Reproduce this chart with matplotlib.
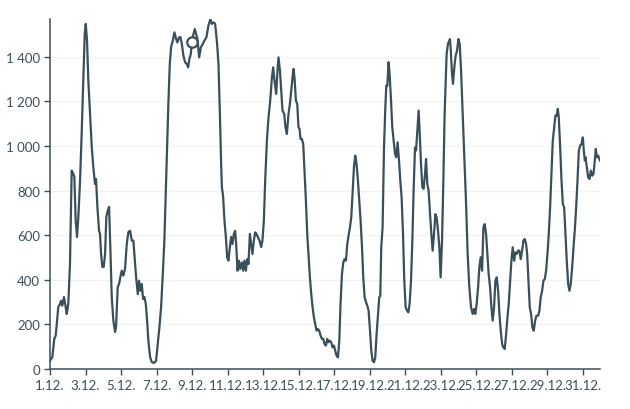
import matplotlib
matplotlib.use("Agg")
import matplotlib.pyplot as plt

# hours since 1.12. 00:00
hours = [0, 3.1, 5.8, 7.7, 11.2, 13.5, 14.9, 16.6, 18.9, 21.2, 22.6, 24.7, 27.0, 29.3, 31.5, 32.9,
         34.7, 36.5, 38.3, 40.6, 42.9, 45.0, 46.9, 48.3, 50.0, 51.8, 54.1, 56.4, 58.5, 60.8, 62.2,
         64.0, 66.3, 67.6, 69.0, 70.7, 72.6, 74.4, 76.1, 78.0, 79.8, 81.5, 83.4, 85.6, 87.9, 89.2,
         91.5, 93.3, 95.1, 96.9, 99.1, 101.4, 103.7, 105.9, 108.2, 110.5, 112.6, 114.0, 116.3,
         118.6, 120.3, 122.1, 124.0, 125.7, 127.5, 129.4, 131.2, 132.9, 135.2, 137.5, 140.6, 143.3,
         145.6, 147.8, 150.1, 152.4, 154.5, 156.4, 158.2, 159.9, 161.8, 163.6, 165.9, 168.1, 170.4,
         172.1, 174.4, 176.2, 178.1, 180.2, 182.5, 184.8, 186.6, 188.3, 190.2, 191.6, 193.8, 195.6,
         197.4, 199.2, 201.5, 203.8, 206.5, 208.6, 211.3, 214.0, 216.7, 218.6, 220.8, 223.1, 225.4,
         227.6, 229.5, 231.2, 232.2, 233.9, 235.7, 237.6, 239.3, 241.1, 243.0, 244.7, 246.5, 248.4,
         250.1, 251.5, 253.3, 255.1, 256.9, 259.2, 261.0, 262.7, 264.6, 266.4, 268.1, 270.0, 271.8,
         273.5, 275.4, 277.2, 278.9, 280.8, 283.0, 285.3, 287.0, 288.9, 290.7, 293.0, 295.2, 297.5,
         299.8, 301.5, 303.3, 305.6, 307.3, 308.7, 310.6, 312.3, 314.1, 316.4, 318.1, 320.0, 322.2,
         324.1, 325.9, 327.6, 329.0, 330.3, 332.2, 334.0, 335.7, 337.1, 338.4, 340.3, 342.1, 343.8,
         345.7, 347.5, 349.2, 351.1, 352.9, 354.7, 356.5, 358.3, 360.1, 362.0, 363.7, 365.5, 367.4,
         369.1, 370.9, 372.8, 374.5, 376.3, 378.2, 379.9, 381.7, 383.6, 385.3, 387.1, 389.0, 390.8,
         392.5, 394.4, 396.2, 397.9, 399.8, 401.6, 403.3, 405.2, 407.0, 408.7, 410.6, 412.4, 414.1,
         416.0, 417.8, 419.6, 421.5, 423.2, 425.0, 426.9, 428.6, 430.4, 432.3, 434.0, 435.8, 437.7,
         439.4, 441.2, 443.1, 444.8, 446.2, 447.5, 449.3, 451.2, 453.0, 454.3, 455.7, 457.4, 458.8,
         460.7, 462.4, 464.2, 466.1, 467.8, 469.6, 471.5, 473.2, 475.0, 476.9, 478.6, 480.4, 482.3,
         484.1, 485.8, 487.7, 489.5, 491.2, 493.1, 494.5, 496.2, 498.0, 499.3, 501.2, 503.0, 504.7,
         506.6, 508.0, 509.7, 511.5, 513.4, 515.2, 516.9, 518.8, 520.6, 522.3, 524.2, 526.0, 527.7,
         529.6, 531.4, 533.1, 534.4, 535.8, 537.6, 540.2, 541.2, 543.1, 544.4, 546.2, 548.0, 549.9,
         551.7, 553.5, 555.3, 557.5, 559.8, 562.1, 564.2, 566.5, 568.8, 571.0, 572.9, 574.6, 576.4,
         578.3, 580.0, 581.8, 583.7, 585.5, 587.2, 589.1, 590.9, 592.6, 594.5, 596.3, 598.0, 599.9,
         601.7, 603.5, 605.4, 607.1, 608.9, 610.8, 612.5, 614.3, 616.2, 618.0, 619.7, 621.6, 623.3,
         625.1, 627.0, 628.7, 630.5, 632.4, 634.1, 635.9, 637.8, 639.5, 641.3, 643.2, 644.6, 646.3,
         648.1, 649.9, 651.7, 653.5, 655.4, 657.1, 659.4, 661.2, 662.9, 664.8, 666.6, 668.4, 670.2,
         672.0, 673.8, 675.6, 677.4, 679.2, 681.1, 682.8, 684.6, 686.0, 687.3, 689.2, 691.0, 692.8,
         694.6, 696.3, 698.1, 700.0, 701.7, 703.5, 705.4, 707.2, 708.9, 710.8, 712.6, 714.4, 716.2,
         718.0, 719.8, 721.1, 722.5, 723.4, 725.2, 727.0, 728.8, 730.6, 732.5, 734.2, 736.0, 737.3,
         738.7, 740.5, 743.0]

values = [37, 54, 135, 150, 278, 292, 306, 284, 323, 278, 247, 292, 471, 890, 875, 862,
          665, 592, 682, 845, 1069, 1293, 1503, 1548, 1473, 1293, 1144, 996, 906, 830, 852,
          727, 620, 606, 516, 458, 458, 516, 682, 710, 727, 547, 323, 217, 166, 188,
          368, 381, 413, 441, 419, 450, 561, 614, 620, 576, 576, 516, 413,
          336, 396, 351, 381, 314, 323, 292, 217, 127, 54, 31, 27, 37,
          112, 188, 278, 426, 576, 785, 996, 1189, 1368, 1444, 1473, 1510, 1480,
          1465, 1488, 1488, 1458, 1406, 1376, 1368, 1353, 1391, 1413, 1465, 1503, 1525,
          1503, 1480, 1398, 1443, 1458, 1473, 1488, 1540, 1570, 1548, 1555, 1548, 1473,
          1368, 1144, 920, 817, 772, 665, 592, 502, 486, 547, 592, 561, 606,
          620, 561, 441, 486, 449, 478, 441, 486, 441, 493, 471, 606, 561,
          516, 576, 613, 606, 592, 576, 547, 576, 665, 845, 1024, 1129, 1204,
          1308, 1353, 1293, 1234, 1339, 1398, 1339, 1249, 1159, 1144, 1084, 1054, 1144,
          1189, 1249, 1308, 1346, 1308, 1204, 1189, 1084, 1077, 1032, 1032, 1009, 890,
          755, 606, 516, 411, 336, 277, 232, 202, 172, 179, 172, 150, 135,
          135, 112, 105, 135, 120, 127, 120, 97, 105, 82, 60, 52, 127,
          292, 426, 478, 493, 486, 561, 598, 635, 680, 785, 905, 957, 920,
          845, 755, 665, 546, 411, 322, 300, 285, 262, 172, 82, 37, 30,
          52, 157, 247, 322, 329, 546, 635, 994, 1174, 1271, 1271, 1376, 1323,
          1204, 1084, 1024, 965, 950, 1017, 935, 845, 770, 606, 396, 277, 262,
          254, 292, 396, 576, 800, 994, 980, 1069, 1159, 1069, 920, 815, 808,
          875, 942, 830, 800, 695, 606, 531, 606, 695, 680, 620, 546, 411,
          576, 845, 1144, 1270, 1413, 1458, 1480, 1443, 1323, 1279, 1353, 1406, 1428,
          1480, 1458, 1339, 1144, 950, 740, 516, 366, 277, 247, 269, 247, 292,
          366, 456, 501, 441, 635, 650, 606, 516, 426, 366, 277, 217, 277,
          396, 411, 351, 247, 172, 112, 97, 90, 157, 232, 292, 396, 486,
          546, 486, 523, 516, 531, 531, 493, 531, 576, 583, 560, 516, 396,
          277, 247, 187, 172, 217, 239, 239, 262, 322, 351, 396, 404, 441,
          516, 606, 725, 875, 1024, 1084, 1137, 1137, 1167, 1129, 994, 845, 740,
          725, 606, 486, 381, 351, 381, 456, 546, 620, 725, 845, 980, 1002,
          1009, 1039, 980, 935, 950, 905, 860, 852, 890, 867, 875, 935, 987,
          950, 957, 935]

tick_hours = [0, 48, 96, 144, 192, 240, 288, 336, 384, 432, 480, 528, 576, 624, 672, 720]
tick_labels = ["1.12.", "3.12.", "5.12.", "7.12.", "9.12.", "11.12.", "13.12.", "15.12.",
               "17.12.", "19.12.", "21.12.", "23.12.", "25.12.", "27.12.", "29.12.", "31.12."]
y_ticks = [0, 200, 400, 600, 800, 1000, 1200, 1400]
y_labels = ["0", "200", "400", "600", "800", "1 000", "1 200", "1 400"]
highlight_index = 95

plt.rcParams['font.family'] = ['Lato', 'DejaVu Sans']
line_color = "#3a4f5a"
text_color = "#3d4f58"

fig = plt.figure(figsize=(6.3, 4.1), dpi=100)
ax = fig.add_axes([50/630, 40/410, 550/630, 350/410])

ax.plot(hours, values, color=line_color, lw=1.6, solid_joinstyle='round', zorder=3)
ax.plot([hours[highlight_index]], [values[highlight_index]], 'o', ms=7.5,
        mfc='white', mec=line_color, mew=1.6, zorder=4)

ax.set_xlim(0, 743)
ax.set_ylim(0, 1570)
ax.set_xticks(tick_hours)
ax.set_xticklabels(tick_labels)
ax.set_yticks(y_ticks)
ax.set_yticklabels(y_labels)

for s in ["top", "right"]:
    ax.spines[s].set_visible(False)
for s in ["left", "bottom"]:
    ax.spines[s].set_color(line_color)
    ax.spines[s].set_linewidth(1.1)

ax.tick_params(axis='both', colors=line_color, labelcolor=text_color, labelsize=9.5,
               length=4.5, width=1, pad=2.5)
ax.yaxis.grid(True, color="#f3f3f3", lw=1)
ax.set_axisbelow(True)

fig.savefig("out.png", dpi=100)
